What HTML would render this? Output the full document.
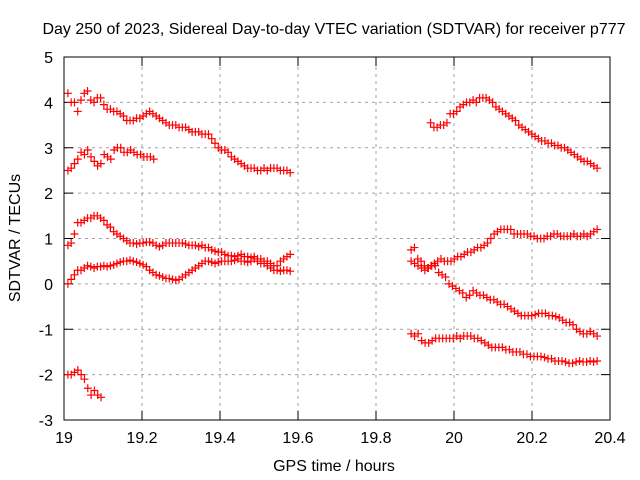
<!DOCTYPE html>
<html><head><meta charset="utf-8"><style>
body{margin:0;background:#fff}
svg{display:block;font-family:"Liberation Sans",sans-serif}
</style></head><body>
<svg id="c" width="640" height="480" xmlns="http://www.w3.org/2000/svg">
<rect width="640" height="480" fill="#fff"/>
<text x="334" y="34" font-size="16" text-anchor="middle">Day 250 of 2023, Sidereal Day-to-day VTEC variation (SDTVAR) for receiver p777</text>
<text x="334" y="471" font-size="16" text-anchor="middle">GPS time / hours</text>
<text transform="translate(20,238) rotate(-90)" font-size="16" text-anchor="middle">SDTVAR / TECUs</text>
<g id="grid"></g><g id="ticks"></g><g id="pts"></g>
<rect x="64" y="57" width="546" height="363" fill="none" stroke="#000" stroke-width="1"/>
</svg>
<script>
const xTicks=[19,19.2,19.4,19.6,19.8,20,20.2,20.4];
const xTickLabels=["19","19.2","19.4","19.6","19.8","20","20.2","20.4"];
const yTicks=[-3,-2,-1,0,1,2,3,4,5];
const yTickLabels=["-3","-2","-1","0","1","2","3","4","5"];
const seriesStart=[19.01,19.01,19.01,19.01,19.01,19.94,19.89,19.89,19.89];
const seriesEnd=[19.58,19.23,19.58,19.58,19.095,20.367,20.367,20.367,20.367];
const sA=[4.2,4.0,4.0,3.8,4.05,4.2,4.25,4.05,4.0,4.1,4.1,3.95,3.85,3.85,3.8,3.8,3.75,3.7,3.6,3.6,3.6,3.65,3.65,3.7,3.75,3.8,3.75,3.7,3.65,3.6,3.55,3.5,3.5,3.5,3.45,3.45,3.45,3.4,3.35,3.35,3.35,3.3,3.3,3.3,3.2,3.1,3.0,2.95,2.95,2.9,2.8,2.75,2.7,2.65,2.6,2.55,2.55,2.55,2.5,2.5,2.55,2.5,2.55,2.55,2.55,2.5,2.5,2.5,2.45];
const sB=[2.5,2.55,2.65,2.75,2.9,2.85,2.95,2.8,2.7,2.6,2.65,2.85,2.8,2.75,2.95,3.0,3.0,2.9,2.9,2.95,2.9,2.85,2.85,2.8,2.8,2.8,2.75];
const sC=[0.85,0.9,1.1,1.35,1.35,1.4,1.45,1.45,1.5,1.5,1.45,1.4,1.3,1.25,1.15,1.1,1.05,1.0,0.95,0.9,0.9,0.88,0.9,0.9,0.92,0.92,0.9,0.85,0.82,0.85,0.9,0.9,0.9,0.9,0.9,0.9,0.88,0.85,0.85,0.85,0.82,0.85,0.8,0.8,0.75,0.72,0.7,0.7,0.65,0.62,0.62,0.6,0.62,0.65,0.6,0.6,0.58,0.6,0.55,0.55,0.5,0.5,0.45,0.4,0.4,0.5,0.55,0.6,0.65];
const sD=[0.0,0.1,0.2,0.3,0.3,0.35,0.4,0.38,0.35,0.38,0.38,0.4,0.38,0.4,0.42,0.45,0.48,0.5,0.5,0.52,0.5,0.48,0.45,0.42,0.38,0.3,0.25,0.2,0.18,0.15,0.12,0.12,0.1,0.08,0.1,0.15,0.2,0.25,0.3,0.35,0.4,0.45,0.5,0.5,0.48,0.45,0.48,0.5,0.5,0.5,0.5,0.52,0.55,0.5,0.5,0.48,0.5,0.55,0.5,0.45,0.45,0.4,0.35,0.3,0.3,0.28,0.3,0.3,0.28];
const sE=[-2.0,-2.0,-1.95,-1.9,-2.0,-2.1,-2.3,-2.45,-2.35,-2.45,-2.5];
const sF=[3.55,3.45,3.45,3.5,3.5,3.55,3.75,3.75,3.8,3.9,3.95,4.0,4.0,4.05,4.0,4.1,4.1,4.1,4.05,4.0,3.9,3.85,3.8,3.75,3.7,3.65,3.6,3.5,3.45,3.4,3.35,3.3,3.25,3.2,3.15,3.15,3.1,3.1,3.05,3.05,3.0,3.0,2.95,2.9,2.85,2.8,2.75,2.7,2.7,2.65,2.6,2.55];
const sG=[0.75,0.8,0.55,0.5,0.4,0.35,0.4,0.45,0.5,0.55,0.5,0.5,0.5,0.55,0.6,0.6,0.65,0.7,0.7,0.75,0.8,0.8,0.85,0.9,1.0,1.1,1.15,1.2,1.2,1.2,1.2,1.1,1.1,1.1,1.1,1.1,1.05,1.05,1.0,1.0,1.0,1.05,1.05,1.1,1.1,1.05,1.05,1.05,1.05,1.1,1.05,1.05,1.1,1.05,1.1,1.15,1.2];
const sH=[0.5,0.45,0.4,0.35,0.3,0.35,0.4,0.4,0.25,0.2,0.15,0.0,-0.05,-0.1,-0.15,-0.2,-0.3,-0.25,-0.15,-0.2,-0.25,-0.25,-0.3,-0.35,-0.35,-0.4,-0.45,-0.45,-0.5,-0.55,-0.6,-0.65,-0.7,-0.7,-0.7,-0.7,-0.68,-0.65,-0.65,-0.65,-0.7,-0.7,-0.72,-0.75,-0.8,-0.85,-0.85,-0.9,-1.0,-1.05,-1.1,-1.1,-1.05,-1.1,-1.15];
const sI=[-1.1,-1.15,-1.1,-1.25,-1.3,-1.3,-1.25,-1.2,-1.2,-1.2,-1.2,-1.2,-1.2,-1.15,-1.2,-1.15,-1.15,-1.15,-1.2,-1.2,-1.25,-1.3,-1.35,-1.4,-1.4,-1.4,-1.4,-1.45,-1.45,-1.5,-1.5,-1.5,-1.55,-1.55,-1.6,-1.6,-1.6,-1.6,-1.62,-1.65,-1.65,-1.7,-1.7,-1.7,-1.72,-1.75,-1.75,-1.72,-1.7,-1.72,-1.72,-1.7,-1.72,-1.7];
const seriesValues=[sA,sB,sC,sD,sE,sF,sG,sH,sI];
const X0=64,X1=610,Y0=420,Y1=57;
function xs(v){return X0+(v-19)/(20.4-19)*(X1-X0);}
function ys(v){return Y0-(v+3)/8*(Y0-Y1);}
const NS="http://www.w3.org/2000/svg";
function mk(tag,attrs,parent){const e=document.createElementNS(NS,tag);for(const k in attrs)e.setAttribute(k,attrs[k]);parent.appendChild(e);return e;}
const grid=document.getElementById('grid'),ticks=document.getElementById('ticks'),pts=document.getElementById('pts');
xTicks.forEach((t,i)=>{const x=xs(t);
 if(i>0&&i<xTicks.length-1){const g=mk('line',{x1:x,x2:x,y1:Y0,y2:Y1,stroke:'#a0a0a0','stroke-dasharray':'3,4'},grid);
 
 }
 mk('line',{x1:x,x2:x,y1:Y0,y2:Y0-9,stroke:'#000'},ticks);mk('line',{x1:x,x2:x,y1:Y1,y2:Y1+9,stroke:'#000'},ticks);
 const l=mk('text',{x:x,y:443,'font-size':16,'text-anchor':'middle'},ticks);l.textContent=xTickLabels[i];
 
 });
yTicks.forEach((t,i)=>{const y=ys(t);
 if(i>0&&i<yTicks.length-1){const g=mk('line',{x1:X0,x2:X1,y1:y,y2:y,stroke:'#a0a0a0','stroke-dasharray':'3,4'},grid);
 
 }
 mk('line',{x1:X0,x2:X0+9,y1:y,y2:y,stroke:'#000'},ticks);mk('line',{x1:X1,x2:X1-9,y1:y,y2:y,stroke:'#000'},ticks);
 const l=mk('text',{x:53,y:y+6,'font-size':16,'text-anchor':'end'},ticks);l.textContent=yTickLabels[i];
 
 });
seriesValues.forEach((arr,s)=>{const n=arr.length,st=seriesStart[s],en=seriesEnd[s];let d='';
 arr.forEach((v,i)=>{const x=xs(st+(n>1?i*(en-st)/(n-1):0)),y=ys(v);d+=`M${x-4},${y}h8M${x},${y-4}v8`;});
 const p=mk('path',{d:d,stroke:'#ff0000','stroke-width':1.2,fill:'none'},pts);
 
 });
</script>
</body></html>
